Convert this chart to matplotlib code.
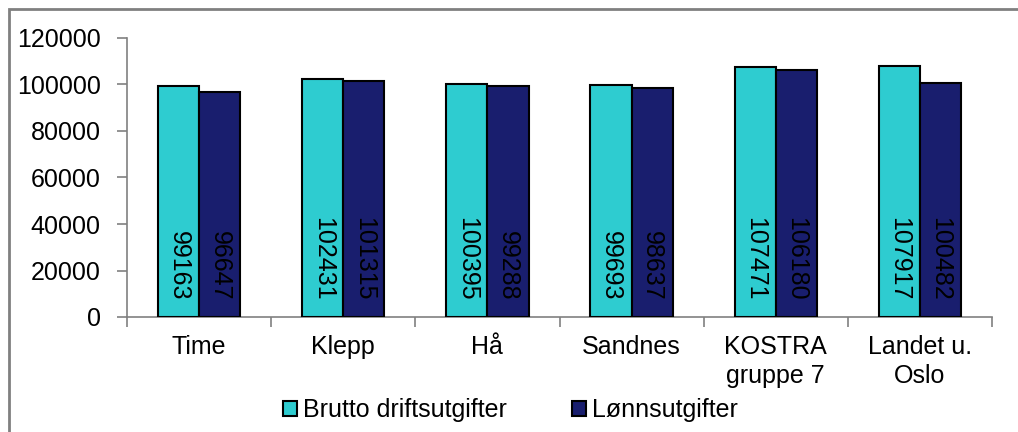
import matplotlib.pyplot as plt
from matplotlib.patches import Patch, Rectangle
import numpy as np

# Data
kategorier = ["Time", "Klepp", "Hå", "Sandnes", "KOSTRA\ngruppe 7", "Landet u.\nOslo"]
brutto = [99163, 102431, 100395, 99693, 107471, 107917]
lonn = [96647, 101315, 99288, 98637, 106180, 100482]
yticks = [0, 20000, 40000, 60000, 80000, 100000, 120000]

plt.rcParams['font.family'] = ['Liberation Sans', 'DejaVu Sans']
plt.rcParams['font.size'] = 18

c_brutto = '#2ECCD0'
c_lonn = '#191E6E'
grey = '#808080'

fig = plt.figure(figsize=(10.18, 4.32), dpi=100)
ax = fig.add_axes([127/1018, 1 - 317/432, (992 - 127)/1018, (317 - 38)/432])

x = np.arange(len(kategorier)) + 0.5
w = 0.285
ax.bar(x - w/2, brutto, w, color=c_brutto, edgecolor='black', linewidth=1.5, zorder=3)
ax.bar(x + w/2, lonn, w, color=c_lonn, edgecolor='black', linewidth=1.5, zorder=3)

# Verdier inni stolpene
for xi, v in zip(x - w/2, brutto):
    ax.annotate(str(v), (xi, 0), xytext=(0, 12), textcoords='offset points',
                rotation=270, ha='center', va='bottom', fontsize=18, zorder=4)
for xi, v in zip(x + w/2, lonn):
    ax.annotate(str(v), (xi, 0), xytext=(0, 12), textcoords='offset points',
                rotation=270, ha='center', va='bottom', fontsize=18, zorder=4)

ax.set_xlim(0, len(kategorier))
ax.set_ylim(0, 120000)
ax.set_yticks(yticks)
ax.set_yticklabels([str(t) for t in yticks])

ax.set_xticks(np.arange(len(kategorier) + 1))
ax.set_xticklabels([])
ax.set_xticks(x, minor=True)
ax.set_xticklabels(kategorier, minor=True, linespacing=1.28)
ax.tick_params(axis='x', which='major', length=7, width=1.2, color=grey, direction='out')
ax.tick_params(axis='x', which='minor', length=0, pad=13)
ax.tick_params(axis='y', length=7, width=1.2, color=grey, direction='out', pad=12)

for s in ['top', 'right']:
    ax.spines[s].set_visible(False)
for s in ['left', 'bottom']:
    ax.spines[s].set_color(grey)
    ax.spines[s].set_linewidth(1.2)

handles = [Patch(facecolor=c_brutto, edgecolor='black', linewidth=1.5),
           Patch(facecolor=c_lonn, edgecolor='black', linewidth=1.5)]
fig.legend(handles, ["Brutto driftsutgifter", "Lønnsutgifter"], ncol=2,
           loc='center', bbox_to_anchor=(0.501, 1 - 410/432), frameon=False,
           handlelength=0.56, handleheight=0.56, handletextpad=0.24,
           columnspacing=2.6, fontsize=18, borderaxespad=0, borderpad=0)

# Ramme rundt figuren
fig.add_artist(Rectangle((9/1018, -0.2), 1.2, 1.2 - 9/432,
                         transform=fig.transFigure, fill=False,
                         edgecolor=grey, linewidth=2, clip_on=False))

fig.savefig("out.png", dpi=100)
